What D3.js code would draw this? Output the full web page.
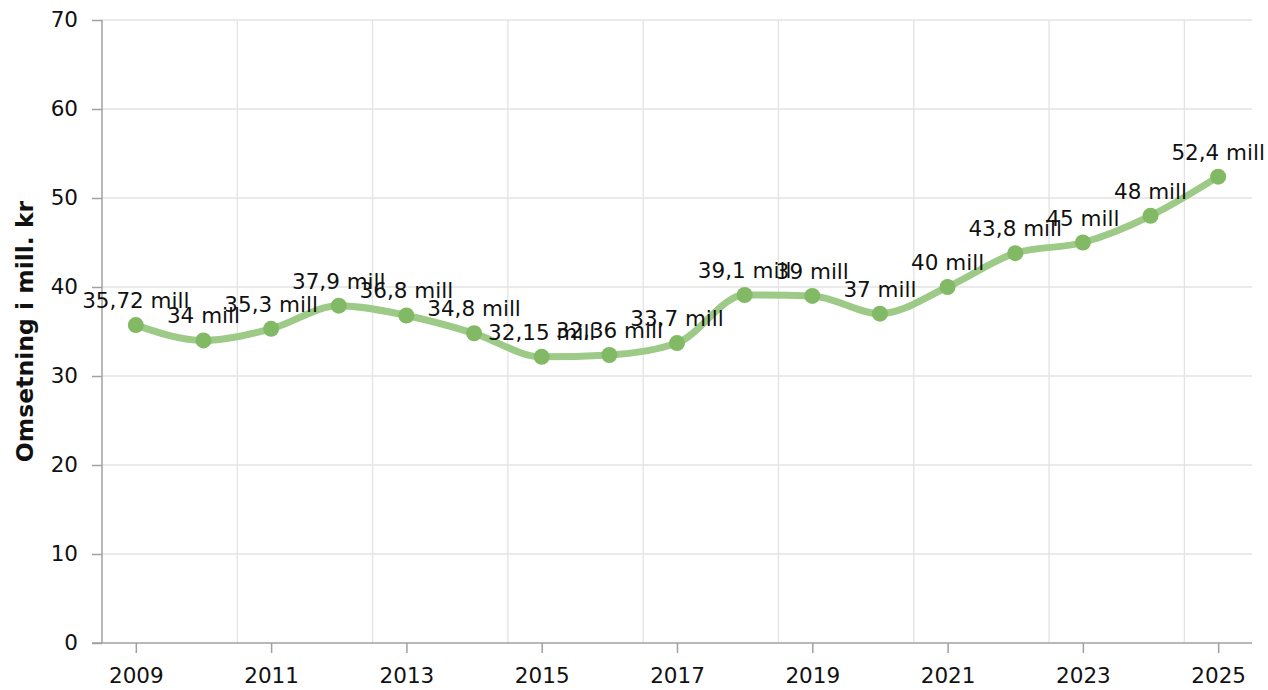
<!DOCTYPE html>
<html><head><meta charset="utf-8">
<script src="https://cdn.jsdelivr.net/npm/d3@7"></script>
<style>body{margin:0;background:#fff;}svg{display:block;font-family:"DejaVu Sans",Verdana,sans-serif;}</style>
</head><body>
<svg id="c" width="1268" height="690"></svg>
<script>
const years = [2009,2010,2011,2012,2013,2014,2015,2016,2017,2018,2019,2020,2021,2022,2023,2024,2025];
const values = [35.72,34,35.3,37.9,36.8,34.8,32.15,32.36,33.7,39.1,39,37,40,43.8,45,48,52.4];
const labels = ["35,72 mill","34 mill","35,3 mill","37,9 mill","36,8 mill","34,8 mill","32,15 mill","32,36 mill","33,7 mill","39,1 mill","39 mill","37 mill","40 mill","43,8 mill","45 mill","48 mill","52,4 mill"];
const yTicks = [0,10,20,30,40,50,60,70];
const xTickYears = [2009,2011,2013,2015,2017,2019,2021,2023,2025];
const yTitle = "Omsetning i mill. kr";

const FS = 21.5;
const svg = d3.select("#c");
const L=102, R=1252, T=20, B=643;
const x = d3.scalePoint().domain(years).range([L,R]).padding(0.5);
const y = d3.scaleLinear().domain([0,70]).range([B,T]);
const step = x.step();

// horizontal grid
svg.append("g").selectAll("line").data(yTicks.slice(1)).join("line")
  .attr("x1",L).attr("x2",R).attr("y1",d=>y(d)).attr("y2",d=>y(d))
  .attr("stroke","#e3e3e3").attr("stroke-width",1.3);
// vertical grid between bands
const vg = years.filter((d,i)=>i%2===1 && i<years.length-1);
svg.append("g").selectAll("line").data(vg).join("line")
  .attr("x1",d=>x(d)+step/2).attr("x2",d=>x(d)+step/2).attr("y1",T).attr("y2",B)
  .attr("stroke","#e3e3e3").attr("stroke-width",1.3);

// y axis
const ya = svg.append("g").attr("transform",`translate(${L},0)`)
  .call(d3.axisLeft(y).tickValues(yTicks).tickSize(10).tickPadding(14).tickFormat(d3.format("d")));
ya.select(".domain").attr("stroke","#a0a0a0").attr("stroke-width",1.5).attr("d",`M0,${T}V${B}`);
ya.selectAll(".tick line").attr("stroke","#a0a0a0").attr("stroke-width",1.5);
ya.selectAll("text").attr("font-size",FS).attr("fill","#111").attr("font-family","DejaVu Sans");

// x axis
const xa = svg.append("g").attr("transform",`translate(0,${B})`)
  .call(d3.axisBottom(x).tickValues(xTickYears).tickSize(10).tickPadding(15).tickFormat(d3.format("d")));
xa.select(".domain").attr("stroke","#a0a0a0").attr("stroke-width",1.5).attr("d",`M${L-10},0H${R}`);
xa.selectAll(".tick line").attr("stroke","#a0a0a0").attr("stroke-width",1.5);
xa.selectAll("text").attr("font-size",FS).attr("fill","#111").attr("font-family","DejaVu Sans");

// y title
svg.append("text").attr("transform",`translate(33,${(T+B)/2}) rotate(-90)`)
  .attr("text-anchor","middle").attr("font-size",23.5).attr("font-weight","bold").attr("fill","#111")
  .text(yTitle);

const data = years.map((yr,i)=>({yr,v:values[i],lab:labels[i]}));
const line = d3.line().x(d=>x(d.yr)).y(d=>y(d.v)).curve(d3.curveMonotoneX);
svg.append("path").datum(data).attr("d",line).attr("fill","none")
  .attr("stroke","#9dca86").attr("stroke-width",7).attr("stroke-linecap","round");
svg.append("g").selectAll("circle").data(data).join("circle")
  .attr("cx",d=>x(d.yr)).attr("cy",d=>y(d.v)).attr("r",8).attr("fill","#82b964");
svg.append("g").selectAll("text").data(data).join("text")
  .attr("x",d=>x(d.yr)).attr("y",d=>y(d.v)-17).attr("text-anchor","middle")
  .attr("font-size",FS).attr("fill","#111").text(d=>d.lab);
</script>
</body></html>
